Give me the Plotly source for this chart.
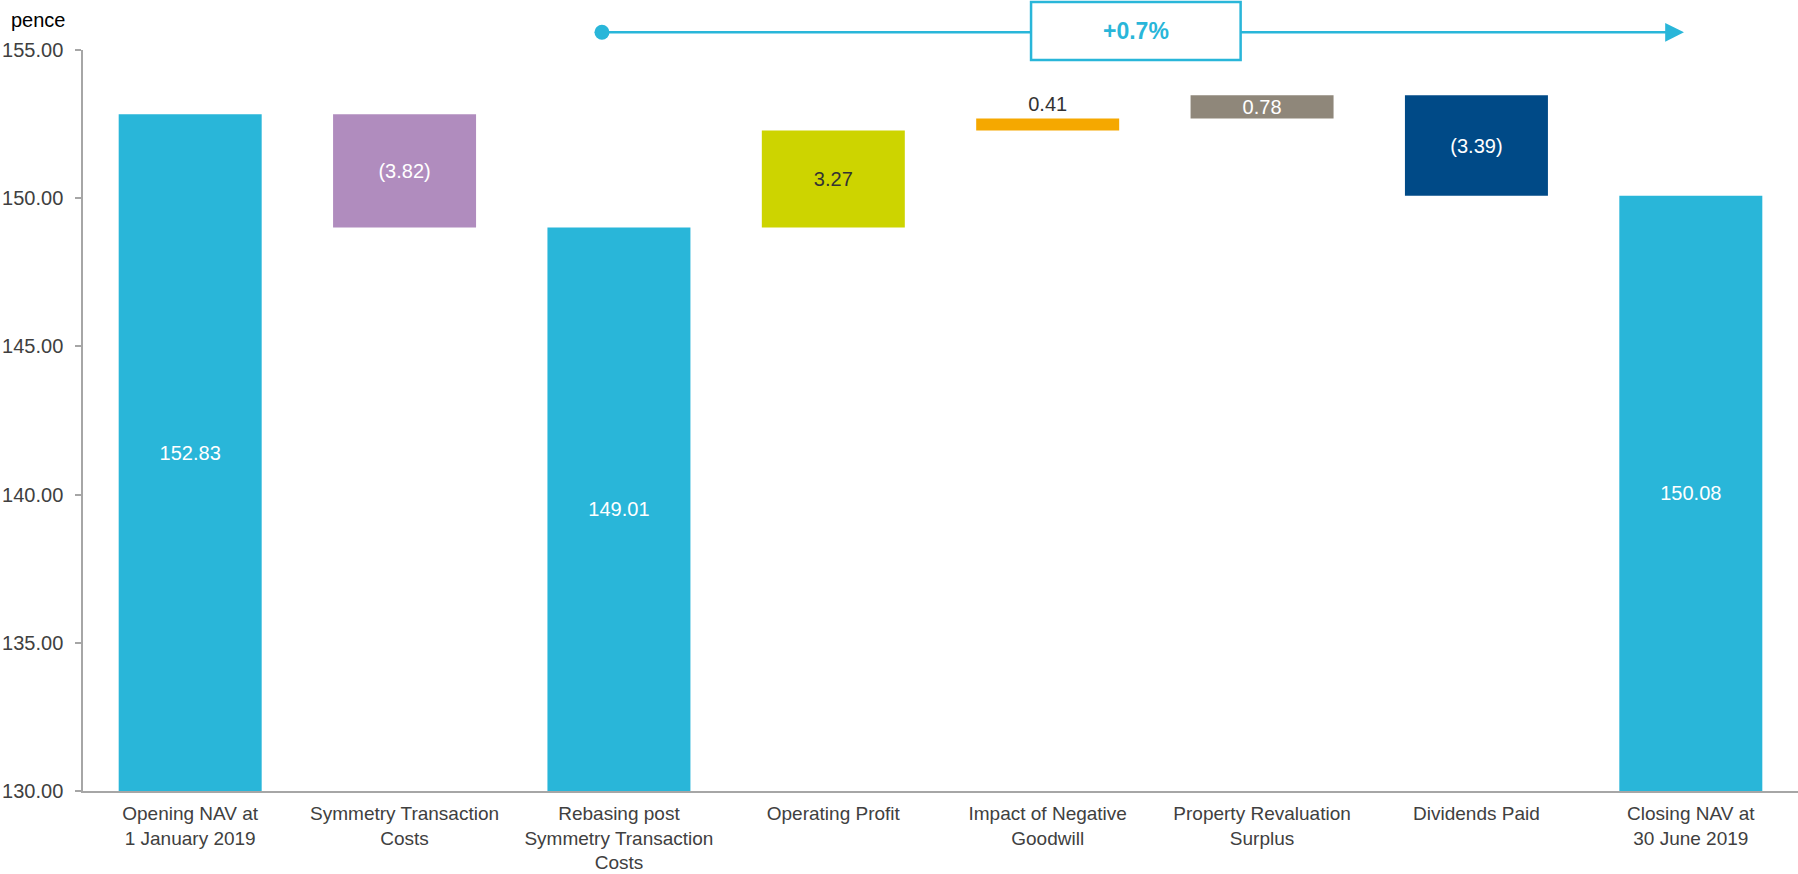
import plotly.graph_objects as go

categories = [
    "Opening NAV at<br>1 January 2019",
    "Symmetry Transaction<br>Costs",
    "Rebasing post<br>Symmetry Transaction<br>Costs",
    "Operating Profit",
    "Impact of Negative<br>Goodwill",
    "Property Revaluation<br>Surplus",
    "Dividends Paid",
    "Closing NAV at<br>30 June 2019",
]
# bar kind: total bars start at axis floor, deltas float
kinds = ["total", "delta", "total", "delta", "delta", "delta", "delta", "total"]
values = [152.83, -3.82, 149.01, 3.27, 0.41, 0.78, -3.39, 150.08]
labels = ["152.83", "(3.82)", "149.01", "3.27", "0.41", "0.78", "(3.39)", "150.08"]
colors = ["#29B6D9", "#B08CBE", "#29B6D9", "#CDD400", "#F5A800", "#8F877A", "#004A87", "#29B6D9"]
label_colors = ["white", "white", "white", "#333333", "#333333", "white", "white", "white"]
label_pos = ["inside", "inside", "inside", "inside", "outside", "inside", "inside", "inside"]
change_text = "+0.7%"
y_floor = 130.0
y_ticks = [130, 135, 140, 145, 150, 155]

bases, heights = [], []
running = 0.0
for k, v in zip(kinds, values):
    if k == "total":
        bases.append(y_floor)
        heights.append(v - y_floor)
        running = v
    else:
        if v >= 0:
            bases.append(running)
            heights.append(v)
        else:
            bases.append(running + v)
            heights.append(-v)
        running += v

CYAN = "#29B6D9"
FONT = "Liberation Sans, Arial, sans-serif"

fig = go.Figure()
fig.add_trace(go.Bar(
    x=categories, y=heights, base=bases,
    marker=dict(color=colors, line=dict(width=0)),
    width=0.667,
    text=labels, textposition=label_pos, insidetextanchor="middle",
    textfont=dict(color=label_colors, size=20, family=FONT),
    constraintext="none", cliponaxis=False,
    hoverinfo="skip",
))

fig.update_layout(
    width=1798, height=874,
    margin=dict(l=83, r=0, t=50, b=83),
    plot_bgcolor="white", paper_bgcolor="white",
    showlegend=False,
    font=dict(family=FONT, size=20, color="#404040"),
    uniformtext=dict(mode="show", minsize=20),
    bargap=0.333,
)
fig.update_yaxes(
    range=[y_floor, 155], tickvals=y_ticks,
    ticktext=[f"{t:.2f}" for t in y_ticks],
    showgrid=False, zeroline=False, automargin=False,
    showline=True, linecolor="#A6A6A6", linewidth=1.5,
    ticks="outside", ticklen=6, tickcolor="#A6A6A6", tickwidth=1.5,
    ticklabelstandoff=8,
    tickfont=dict(size=20, color="#404040"),
)
fig.update_xaxes(
    showgrid=False, zeroline=False, automargin=False,
    showline=True, linecolor="#A6A6A6", linewidth=2,
    ticks="", ticklabelstandoff=4,
    tickfont=dict(size=19, color="#404040"),
)

# growth arrow above the chart
ya = 1.0239
x_start, x_end = 0.3026, 0.9335
fig.add_shape(type="line", xref="paper", yref="paper",
              x0=x_start, x1=x_end - 0.006, y0=ya, y1=ya,
              line=dict(color=CYAN, width=2.5))
fig.add_shape(type="circle", xref="paper", yref="paper",
              xsizemode="pixel", ysizemode="pixel",
              xanchor=x_start, yanchor=ya, x0=-7.5, x1=7.5, y0=-7.5, y1=7.5,
              fillcolor=CYAN, line=dict(color=CYAN, width=0))
fig.add_annotation(xref="paper", yref="paper", x=x_end, y=ya,
                   ax=-18, ay=0, text="", showarrow=True,
                   arrowhead=2, arrowsize=1.5, arrowwidth=2.5, arrowcolor=CYAN)
fig.add_shape(type="rect", xref="paper", yref="paper",
              x0=0.5528, x1=0.675, y0=0.9865, y1=1.0648,
              fillcolor="white", line=dict(color=CYAN, width=2.5), layer="above")
fig.add_annotation(xref="paper", yref="paper", x=(0.5528 + 0.675) / 2, y=1.0257,
                   xanchor="center", yanchor="middle",
                   text=f"<b>{change_text}</b>", showarrow=False,
                   font=dict(color=CYAN, size=23, family=FONT))

fig.add_annotation(xref="paper", yref="paper", x=-0.0431, y=1.041,
                   xanchor="left", yanchor="middle", text="pence", showarrow=False,
                   font=dict(color="#000000", size=20, family=FONT))

fig.write_html("out.html")
